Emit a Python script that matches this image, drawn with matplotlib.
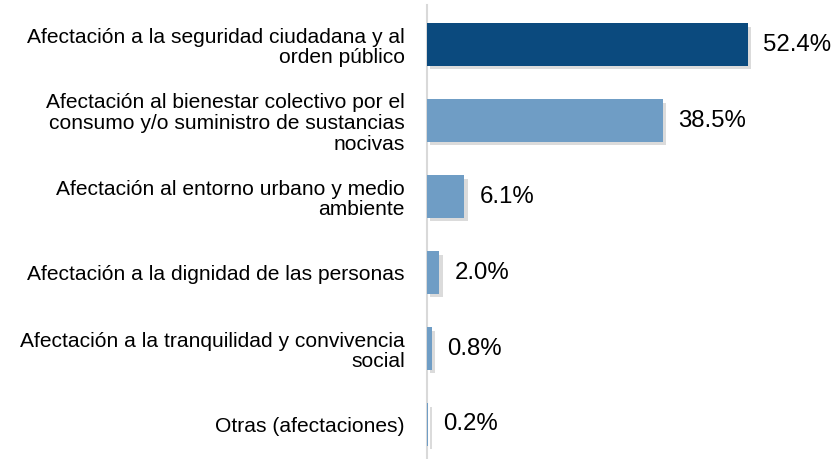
import matplotlib.pyplot as plt
import matplotlib.patheffects as pe

categories = [
    "Afectación a la seguridad ciudadana y al\norden público",
    "Afectación al bienestar colectivo por el\nconsumo y/o suministro de sustancias\nnocivas",
    "Afectación al entorno urbano y medio\nambiente",
    "Afectación a la dignidad de las personas",
    "Afectación a la tranquilidad y convivencia\nsocial",
    "Otras (afectaciones)",
]
values = [52.4, 38.5, 6.1, 2.0, 0.8, 0.2]
colors = ["#0B4A7E", "#6F9DC5", "#6F9DC5", "#6F9DC5", "#6F9DC5", "#6F9DC5"]

plt.rcParams['font.family'] = ['Liberation Sans', 'DejaVu Sans']

fig = plt.figure(figsize=(8.33, 4.59), dpi=100)
ax = fig.add_axes([427 / 833, 0, 1 - 427 / 833, 1 - 5 / 459])

pos = list(range(len(values)))
bars = ax.barh(pos, values, height=0.565, color=colors, zorder=3)
for b in bars:
    b.set_path_effects([pe.SimplePatchShadow(offset=(2.5, -2.5), shadow_rgbFace='#9a9a9a', alpha=0.35), pe.Normal()])

for p, v in zip(pos, values):
    ax.annotate("%.1f%%" % v, (v, p), xytext=(11, 0), textcoords='offset points',
                va='center', ha='left', fontsize=17.3, color='black')

ax.set_xlim(0, 66.3)
ax.set_ylim(5.454, -0.52)
ax.set_yticks(pos)
ax.set_yticklabels(categories, fontsize=15.1, linespacing=1.12)
ax.tick_params(axis='y', length=0, pad=16)
ax.set_xticks([])
for s in ['top', 'right', 'bottom']:
    ax.spines[s].set_visible(False)
ax.spines['left'].set_color('#D9D9D9')
ax.spines['left'].set_linewidth(1.5)

fig.savefig("out.png", dpi=100)
